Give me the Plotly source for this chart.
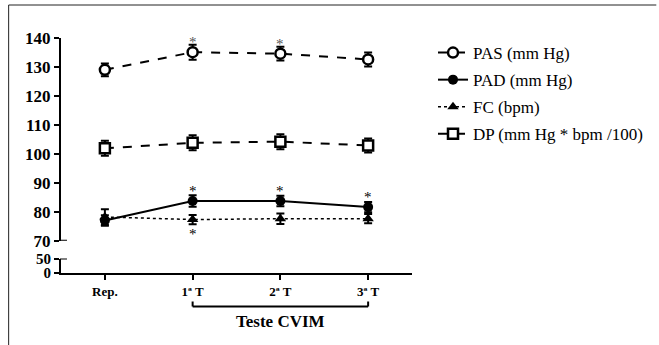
import plotly.graph_objects as go

# ---------------- data ----------------
categories = ["Rep.", "1ª T", "2ª T", "3ª T"]
pas = [129.0, 135.1, 134.6, 132.6]
pas_err = [2.2, 2.6, 2.4, 2.4]
pad = [77.0, 83.7, 83.7, 81.6]
pad_err = [1.8, 2.0, 1.8, 1.8]
fc = [78.2, 77.3, 77.6, 77.6]
fc_err = [2.7, 1.6, 1.8, 1.6]
dp = [101.9, 103.8, 104.2, 102.9]
dp_err = [2.6, 2.6, 2.6, 2.4]
pas_sig = [False, True, True, False]
pad_sig = [False, True, True, True]
fc_sig = [False, True, False, False]
upper_ticks = [70, 80, 90, 100, 110, 120, 130, 140]
lower_ticks = [0, 50]
bracket_label = "Teste CVIM"

xs = list(range(len(categories)))

# ---------------- geometry helpers ----------------
W, H = 659, 345
ML, MR, MT, MB = 61, 246, 38, 72
PW, PH = W - ML - MR, H - MT - MB


def px_x(p):
    return (p - ML) / PW


def px_y(p):
    return (H - MB - p) / PH


serif = "Liberation Serif, Times New Roman, Tinos, serif"

fig = go.Figure()

err_style = dict(type="data", thickness=2, width=4, color="black", visible=True)

fig.add_trace(go.Scatter(
    x=xs, y=pas, name="PAS (mm Hg)", mode="lines+markers",
    line=dict(color="black", width=2, dash="dash"),
    marker=dict(symbol="circle", size=10, color="white", line=dict(color="black", width=2.5)),
    error_y=dict(array=pas_err, **err_style),
    legendgroup="a",
))
fig.add_trace(go.Scatter(
    x=xs, y=pad, name="PAD (mm Hg)", mode="lines+markers",
    line=dict(color="black", width=2),
    marker=dict(symbol="circle", size=10, color="black"),
    error_y=dict(array=pad_err, **err_style),
    legendgroup="b",
))
fig.add_trace(go.Scatter(
    x=xs, y=fc, name="FC (bpm)", mode="lines+markers",
    line=dict(color="black", width=1.5, dash="dot"),
    marker=dict(symbol="triangle-up", size=10, color="black"),
    error_y=dict(array=fc_err, **err_style),
    legendgroup="c",
))
fig.add_trace(go.Scatter(
    x=xs, y=dp, name="DP (mm Hg * bpm /100)", mode="lines+markers",
    line=dict(color="black", width=2, dash="dash"),
    marker=dict(symbol="square", size=10, color="white", line=dict(color="black", width=2.5)),
    error_y=dict(array=dp_err, **err_style),
    legendgroup="d",
))
# dummy trace to instantiate the lower (broken) axis segment
fig.add_trace(go.Scatter(x=xs, y=[None] * len(xs), xaxis="x2", yaxis="y2",
                         showlegend=False, hoverinfo="skip", mode="markers"))

# significance asterisks
ann = []
for i, s in enumerate(pas_sig):
    if s:
        ann.append(dict(x=xs[i], y=pas[i] + pas_err[i], xref="x", yref="y", text="*",
                        showarrow=False, yanchor="bottom", yshift=-7,
                        font=dict(family=serif, size=15, color="#555555")))
for i, s in enumerate(pad_sig):
    if s:
        ann.append(dict(x=xs[i], y=pad[i], xref="x", yref="y", text="*",
                        showarrow=False, yanchor="bottom", yshift=0,
                        font=dict(family=serif, size=15, color="black")))
for i, s in enumerate(fc_sig):
    if s:
        ann.append(dict(x=xs[i], y=fc[i] - fc_err[i], xref="x", yref="y", text="*",
                        showarrow=False, yanchor="top", yshift=0,
                        font=dict(family=serif, size=15, color="black")))

ann.append(dict(x=(xs[1] + xs[3]) / 2, y=px_y(321), xref="x2", yref="paper",
                text="<b>" + bracket_label + "</b>", showarrow=False,
                xanchor="center", yanchor="middle",
                font=dict(family=serif, size=17, color="black")))
fig.update_layout(annotations=ann)

# shapes: bracket, axis-break caps, frame
shapes = [
    dict(type="line", xref="x2", yref="paper", x0=xs[1], x1=xs[3],
         y0=px_y(306.5), y1=px_y(306.5), line=dict(color="black", width=2)),
    dict(type="line", xref="x2", yref="paper", x0=xs[1], x1=xs[1],
         y0=px_y(306.5), y1=px_y(301.5), line=dict(color="black", width=2)),
    dict(type="line", xref="x2", yref="paper", x0=xs[3], x1=xs[3],
         y0=px_y(306.5), y1=px_y(301.5), line=dict(color="black", width=2)),
    dict(type="line", xref="paper", yref="y", x0=px_x(60), x1=px_x(67),
         y0=upper_ticks[0], y1=upper_ticks[0], line=dict(color="black", width=2)),
    dict(type="line", xref="paper", yref="y2", x0=px_x(60), x1=px_x(67),
         y0=lower_ticks[-1], y1=lower_ticks[-1], line=dict(color="black", width=2)),
    dict(type="line", xref="paper", yref="paper", x0=px_x(8.5), x1=px_x(8.5),
         y0=px_y(5), y1=px_y(345), line=dict(color="#222222", width=1)),
    dict(type="line", xref="paper", yref="paper", x0=px_x(8.5), x1=px_x(658),
         y0=px_y(5), y1=px_y(5), line=dict(color="#222222", width=1)),
]
fig.update_layout(shapes=shapes)

axis_common = dict(showgrid=False, zeroline=False, showline=True, linecolor="black",
                   linewidth=2, ticks="outside", ticklen=5, tickwidth=2, tickcolor="black")

fig.update_layout(
    width=W, height=H,
    margin=dict(l=ML, r=MR, t=MT, b=MB),
    paper_bgcolor="white", plot_bgcolor="white",
    font=dict(family=serif, color="black"),
    xaxis=dict(domain=[0, 1], anchor="y", range=[-0.5, 3.5], visible=False,
               matches="x2"),
    xaxis2=dict(domain=[0, 1], anchor="y2", range=[-0.5, 3.5], tickvals=xs,
                ticktext=["<b>" + c + "</b>" for c in categories],
                tickfont=dict(family=serif, size=13, color="black"), **axis_common),
    yaxis=dict(domain=[px_y(240.7), 1], anchor="x", range=[70, 140],
               tickvals=upper_ticks, ticktext=["<b>%d</b>" % t for t in upper_ticks],
               tickfont=dict(family=serif, size=17, color="black"), **axis_common),
    yaxis2=dict(domain=[0, px_y(258.5)], anchor="x2", range=[0, 50],
                tickvals=lower_ticks, ticktext=["<b>%d</b>" % t for t in lower_ticks],
                tickfont=dict(family=serif, size=15, color="black"), **axis_common),
    showlegend=True,
    legend=dict(x=px_x(433), y=px_y(35), xanchor="left", yanchor="top",
                font=dict(family=serif, size=17, color="black"),
                tracegroupgap=2, bgcolor="rgba(0,0,0,0)", itemwidth=30),
)

fig.write_html("out.html", config={"displayModeBar": False},
               post_script="document.body.style.margin='0px';")
